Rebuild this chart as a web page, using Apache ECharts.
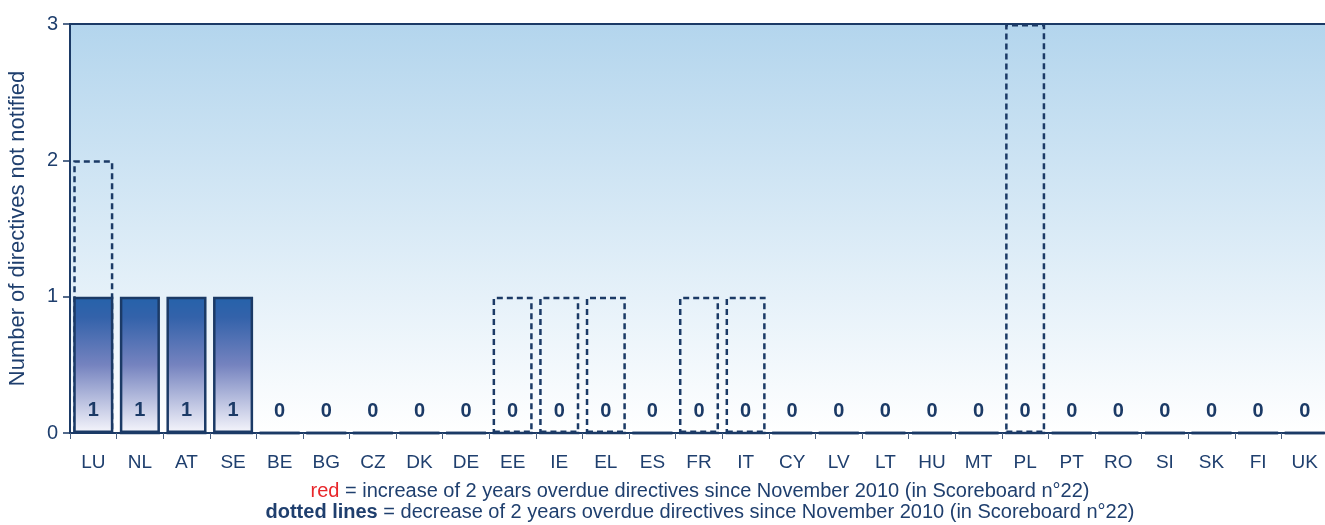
<!DOCTYPE html>
<html><head><meta charset="utf-8">
<script src="https://cdn.jsdelivr.net/npm/echarts@6/dist/echarts.min.js"></script>
<style>html,body{margin:0;padding:0;background:#fff}#c{width:1325px;height:525px}</style>
</head><body><div id="c"></div>
<script>
const categories = ['LU','NL','AT','SE','BE','BG','CZ','DK','DE','EE','IE','EL','ES','FR','IT','CY','LV','LT','HU','MT','PL','PT','RO','SI','SK','FI','UK'];
const currentValues = [1,1,1,1,0,0,0,0,0,0,0,0,0,0,0,0,0,0,0,0,0,0,0,0,0,0,0];
const previousValues = [2,0,0,0,0,0,0,0,0,1,1,1,0,1,1,0,0,0,0,0,3,0,0,0,0,0,0];
const yTicks = [0,1,2,3];
const yAxisTitle = 'Number of directives not notified';
const noteRed = 'red';
const noteRedText = ' = increase of 2 years overdue directives since November 2010 (in Scoreboard n°22)';
const noteBold = 'dotted lines';
const noteBoldText = ' = decrease of 2 years overdue directives since November 2010 (in Scoreboard n°22)';

const navy = '#1b3a66';
const txt = '#1f3f6e';
const chart = echarts.init(document.getElementById('c'));
chart.setOption({
  animation: false,
  textStyle: { fontFamily: 'Liberation Sans, Arial, sans-serif' },
  grid: {
    left: 70, width: 1258, top: 24, height: 409,
    outerBoundsMode: 'none',
    show: true, borderWidth: 2, borderColor: navy,
    backgroundColor: new echarts.graphic.LinearGradient(0,0,0,1,[
      {offset:0,color:'#b3d5ed'},{offset:1,color:'#ffffff'}])
  },
  xAxis: {
    type: 'category', data: categories,
    axisLine: { show: true, lineStyle: { color: navy, width: 2 } },
    axisTick: { show: true, length: 6, lineStyle: { color: '#4a6080', width: 1 } },
    axisLabel: { color: txt, fontSize: 19, margin: 20 }
  },
  yAxis: {
    type: 'value', min: yTicks[0], max: yTicks[yTicks.length-1], interval: 1,
    name: yAxisTitle, nameLocation: 'middle', nameGap: 41,
    nameTextStyle: { color: txt, fontSize: 22 },
    axisLine: { show: true, lineStyle: { color: navy, width: 2 } },
    axisTick: { show: true, length: 7, lineStyle: { color: navy, width: 1.5 } },
    axisLabel: { color: txt, fontSize: 20, margin: 12 },
    splitLine: { show: false }
  },
  series: [
    {
      type: 'bar', data: previousValues, barWidth: '86%', z: 2,
      itemStyle: { color: 'rgba(0,0,0,0)', borderColor: navy, borderWidth: 2.5, borderType: [6,4] },
      silent: true
    },
    {
      type: 'bar', data: currentValues, barWidth: '86%', barGap: '-100%', z: 3,
      itemStyle: {
        color: new echarts.graphic.LinearGradient(0,0,0,1,[
          {offset:0,color:'#2562aa'},{offset:0.15,color:'#3362aa'},
          {offset:0.5,color:'#7583bf'},{offset:1,color:'#f6f6fc'}]),
        borderColor: navy, borderWidth: 2.5
      },
      label: { show: true, position: 'insideBottom', distance: 13, color: navy, fontSize: 20, fontWeight: 'bold' }
    }
  ],
  graphic: [
    { type: 'text', x: 700, y: 481, style: { align: 'center',
      rich: { r: { fill: '#e8262a', fontSize: 20, fontFamily: 'Liberation Sans' }, t: { fill: txt, fontSize: 20, fontFamily: 'Liberation Sans' } },
      text: '{r|' + noteRed + '}{t|' + noteRedText + '}' } },
    { type: 'text', x: 700, y: 502, style: { align: 'center',
      rich: { b: { fill: txt, fontSize: 20, fontWeight: 'bold', fontFamily: 'Liberation Sans' }, t: { fill: txt, fontSize: 20, fontFamily: 'Liberation Sans' } },
      text: '{b|' + noteBold + '}{t|' + noteBoldText + '}' } }
  ]
});
</script></body></html>
